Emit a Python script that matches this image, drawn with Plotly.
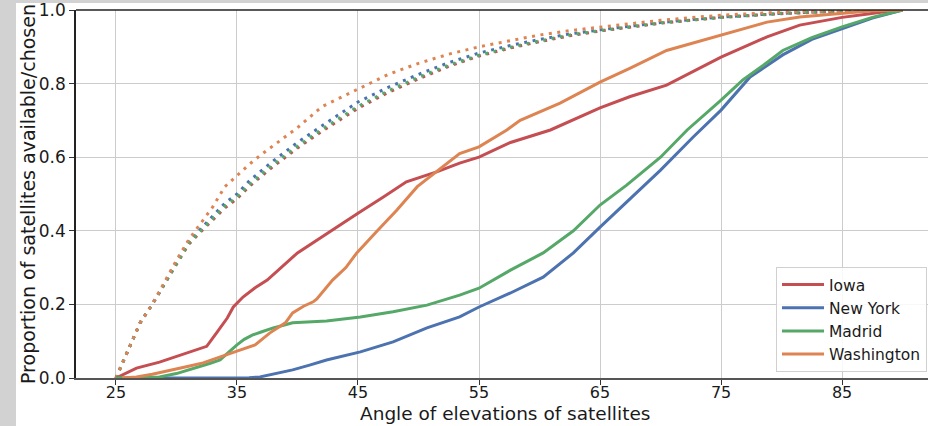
import plotly.graph_objects as go

# ---- data ----
# dotted "available" curves
avail_x = [25, 26, 27, 28, 29, 30, 31, 32, 33, 34, 35, 36, 37, 38, 40, 42, 45, 47.5, 50, 52.5, 55, 57.5, 60, 62.5, 65, 70, 75, 80, 85, 90]
avail_newyork = [0, 0.075, 0.15, 0.20, 0.255, 0.315, 0.37, 0.405, 0.44, 0.475, 0.50, 0.535, 0.563, 0.59, 0.64, 0.685, 0.75, 0.79, 0.825, 0.857, 0.883, 0.903, 0.92, 0.935, 0.946, 0.966, 0.981, 0.991, 0.997, 1.0]
avail_madrid = [0, 0.075, 0.15, 0.20, 0.255, 0.313, 0.366, 0.40, 0.434, 0.467, 0.492, 0.525, 0.553, 0.58, 0.63, 0.675, 0.738, 0.78, 0.817, 0.85, 0.877, 0.898, 0.916, 0.932, 0.944, 0.965, 0.98, 0.991, 0.997, 1.0]
avail_iowa = [0, 0.075, 0.15, 0.20, 0.255, 0.311, 0.363, 0.397, 0.43, 0.462, 0.487, 0.52, 0.548, 0.575, 0.625, 0.67, 0.733, 0.776, 0.813, 0.847, 0.875, 0.896, 0.914, 0.93, 0.943, 0.964, 0.98, 0.99, 0.997, 1.0]
avail_washington = [0, 0.075, 0.15, 0.20, 0.26, 0.32, 0.375, 0.42, 0.465, 0.52, 0.55, 0.58, 0.607, 0.632, 0.68, 0.737, 0.785, 0.825, 0.855, 0.88, 0.90, 0.917, 0.932, 0.944, 0.954, 0.972, 0.986, 0.994, 0.998, 1.0]

# solid "chosen" curves
iowa_x = [25, 26, 26.7, 28.6, 30, 31.9, 32.5, 33.3, 34.2, 34.7, 35.5, 36.5, 37.5, 40, 42.5, 45, 47.1, 49, 51.5, 53.4, 55, 57.6, 60.9, 65, 67.5, 70.5, 75, 78.8, 81.5, 85, 87.3, 89.5]
iowa_y = [0, 0.015, 0.027, 0.043, 0.058, 0.078, 0.086, 0.122, 0.163, 0.193, 0.22, 0.245, 0.266, 0.34, 0.395, 0.448, 0.492, 0.533, 0.56, 0.584, 0.60, 0.64, 0.674, 0.734, 0.765, 0.796, 0.872, 0.927, 0.959, 0.98, 0.99, 1.0]

washington_x = [25.5, 26.7, 28, 29.5, 31, 32.2, 33.5, 35, 36.5, 37.7, 39, 39.6, 40.5, 41.3, 41.6, 42.9, 44, 44.9, 46.6, 48.2, 49.9, 51.5, 53.4, 55, 57.3, 58.4, 61.7, 65, 67.5, 70.5, 75, 78.8, 81.5, 85, 87.5, 90]
washington_y = [0, 0.003, 0.01, 0.022, 0.032, 0.041, 0.055, 0.073, 0.09, 0.122, 0.15, 0.177, 0.195, 0.207, 0.215, 0.266, 0.30, 0.34, 0.40, 0.456, 0.52, 0.56, 0.61, 0.628, 0.674, 0.70, 0.747, 0.804, 0.842, 0.89, 0.932, 0.967, 0.981, 0.992, 0.998, 1.0]

madrid_x = [25, 27, 28.6, 30, 31.9, 32.8, 33.6, 34.3, 35, 35.6, 36.3, 37, 38, 39.6, 42.4, 45.2, 47.9, 50.7, 53.4, 55, 57.6, 60.3, 62.8, 65, 67.2, 70, 72.2, 75, 76.8, 78.5, 80.1, 82.5, 85, 87.5, 90]
madrid_y = [0, 0.001, 0.003, 0.012, 0.03, 0.04, 0.049, 0.07, 0.09, 0.105, 0.117, 0.125, 0.136, 0.15, 0.155, 0.166, 0.18, 0.198, 0.225, 0.244, 0.293, 0.34, 0.40, 0.47, 0.524, 0.60, 0.674, 0.755, 0.81, 0.85, 0.89, 0.925, 0.954, 0.98, 1.0]

newyork_x = [28.5, 33, 35, 36, 36.9, 38, 39.6, 41, 42.4, 45.2, 47.9, 50.7, 53.4, 55, 57.6, 60.3, 62.8, 65, 67.2, 70, 72.7, 75, 77.4, 80.1, 82.5, 85, 87.5, 90]
newyork_y = [0, 0, 0.0005, 0.001, 0.003, 0.01, 0.022, 0.035, 0.049, 0.071, 0.098, 0.136, 0.166, 0.193, 0.231, 0.274, 0.34, 0.41, 0.478, 0.565, 0.655, 0.728, 0.818, 0.878, 0.92, 0.95, 0.978, 1.0]

x_ticks = [25, 35, 45, 55, 65, 75, 85]
y_ticks = [0.0, 0.2, 0.4, 0.6, 0.8, 1.0]
x_title = "Angle of elevations of satellites"
y_title = "Proportion of satellites available/chosen"

RED, BLUE, GREEN, ORANGE = "#C44E52", "#4C72B0", "#55A868", "#DD8452"

fig = go.Figure()
dot = "3px,5.5px"
for xs, ys, c, name in [
    (avail_x, avail_iowa, RED, "Iowa"),
    (avail_x, avail_newyork, BLUE, "New York"),
    (avail_x, avail_madrid, GREEN, "Madrid"),
    (avail_x, avail_washington, ORANGE, "Washington"),
]:
    fig.add_trace(go.Scatter(x=xs, y=ys, mode="lines", showlegend=False,
                             line=dict(color=c, width=3, dash=dot), hoverinfo="skip"))

for xs, ys, c, name in [
    (iowa_x, iowa_y, RED, "Iowa"),
    (newyork_x, newyork_y, BLUE, "New York"),
    (madrid_x, madrid_y, GREEN, "Madrid"),
    (washington_x, washington_y, ORANGE, "Washington"),
]:
    fig.add_trace(go.Scatter(x=xs, y=ys, mode="lines", name=name,
                             line=dict(color=c, width=3)))

W, H = 928, 426
L, R, T, B = 76, 0, 10, 48
pw, ph = W - L - R, H - T - B

def px2paper_x(px):
    return (px - L) / pw

def px2paper_y(py):
    return (H - B - py) / ph

fig.update_layout(
    width=W, height=H, autosize=False,
    margin=dict(l=L, r=R, t=T, b=B, pad=0),
    paper_bgcolor="#d2d2d2",
    plot_bgcolor="white",
    font=dict(family="DejaVu Sans", size=16.5, color="#1a1a1a"),
    shapes=[
        dict(type="rect", xref="paper", yref="paper", layer="below",
             x0=px2paper_x(16), x1=px2paper_x(940), y0=px2paper_y(440), y1=px2paper_y(3),
             fillcolor="white", line=dict(width=0)),
        dict(type="line", xref="paper", yref="paper", x0=0, x1=1, y0=1, y1=1,
             line=dict(color="#222222", width=1.5)),
    ],
    annotations=[
        dict(text=x_title, xref="paper", yref="paper", x=px2paper_x(505), y=px2paper_y(413),
             xanchor="center", yanchor="middle", showarrow=False, font=dict(size=18.5)),
        dict(text=y_title, xref="paper", yref="paper", x=px2paper_x(28), y=px2paper_y(194),
             xanchor="center", yanchor="middle", showarrow=False, textangle=-90, font=dict(size=19)),
    ],
    xaxis=dict(range=[21.7, 92.1], tickvals=x_ticks, ticktext=[str(v) for v in x_ticks],
               showgrid=True, gridcolor="#cccccc", gridwidth=1.3, zeroline=False,
               showline=True, linecolor="#555555", linewidth=1.5,
               ticks="outside", ticklen=5, tickwidth=1.2, tickcolor="#333333",
               tickfont=dict(size=16), ticklabelstandoff=-6, ticklabeloverflow="allow"),
    yaxis=dict(range=[0, 1], tickvals=y_ticks, ticktext=[f"{v:.1f}" for v in y_ticks],
               showgrid=True, gridcolor="#cccccc", gridwidth=1.3, zeroline=False,
               showline=True, linecolor="#222222", linewidth=1.5,
               ticks="outside", ticklen=5, tickwidth=1.2, tickcolor="#333333",
               tickfont=dict(size=17), ticklabeloverflow="allow"),
    legend=dict(x=px2paper_x(776), y=px2paper_y(267), xanchor="left", yanchor="top",
                bgcolor="rgba(255,255,255,0.85)", bordercolor="#d0d0d0", borderwidth=1,
                font=dict(size=15.5), tracegroupgap=0, itemwidth=42),
)

fig.write_html("out.html")
